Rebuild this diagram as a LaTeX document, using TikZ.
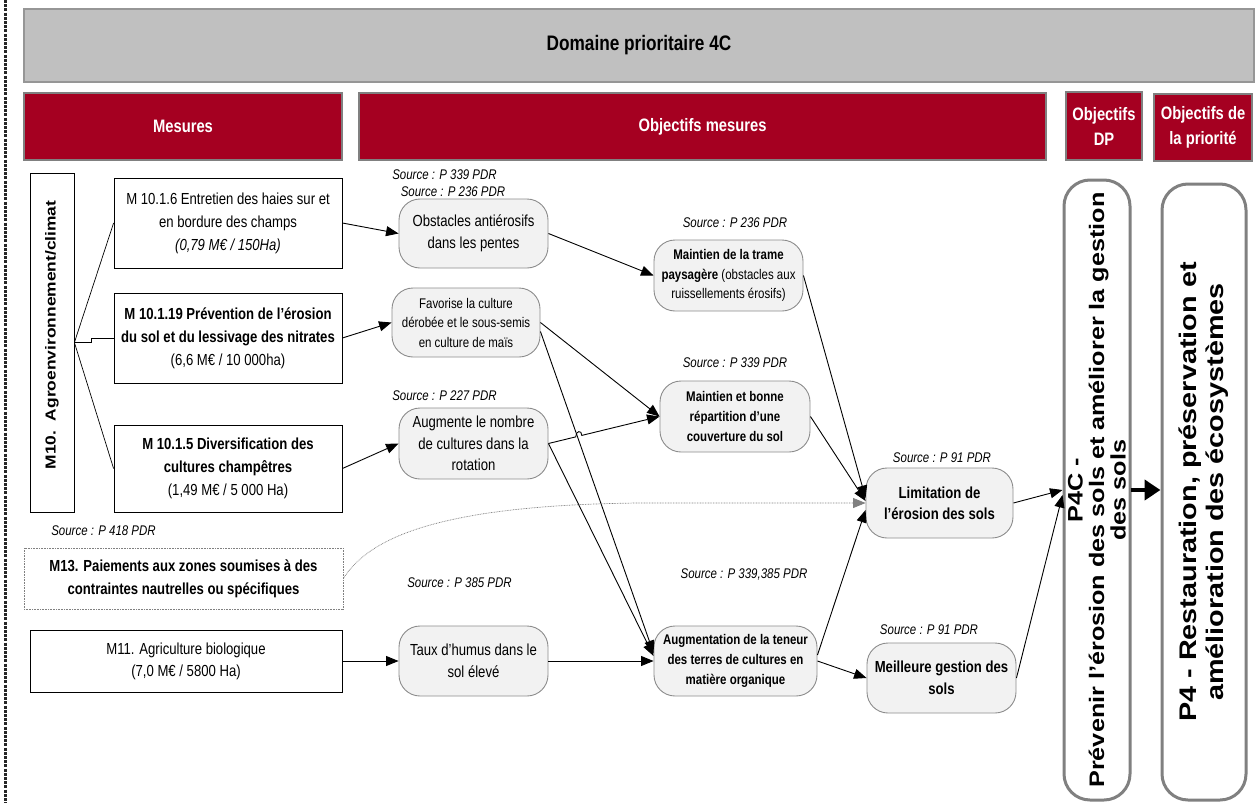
\documentclass[tikz,border=0pt]{standalone}
\usepackage{fontspec}
\setmainfont{Liberation Sans}[FakeStretch=0.82]
\newfontfamily\widefont{Liberation Sans}[FakeStretch=1.2]
\usetikzlibrary{arrows.meta,calc}

\definecolor{headred}{RGB}{165,0,33}
\definecolor{hdrborder}{RGB}{128,128,128}
\definecolor{titlefill}{RGB}{192,192,192}
\definecolor{titleborder}{RGB}{150,150,150}
\definecolor{objfill}{RGB}{242,242,242}
\definecolor{objborder}{RGB}{140,140,140}
\definecolor{bigborder}{RGB}{128,128,128}

\tikzset{
  hdr/.style={draw=hdrborder, line width=1.2pt, fill=headred, text=white, align=center, inner sep=0pt,
    font=\bfseries\fontsize{18}{25}\selectfont},
  mbox/.style={draw=black, line width=0.8pt, fill=white, align=center, inner sep=0pt,
    font=\fontsize{16}{23}\selectfont},
  obj/.style={draw=objborder, line width=0.9pt, fill=objfill, rounded corners=21pt, align=center, inner sep=0pt},
  objtxt/.style={obj, font=\fontsize{16}{22}\selectfont},
  objsm/.style={obj, font=\fontsize{14}{19.5}\selectfont},
  objbf/.style={obj, font=\bfseries\fontsize{14}{19.8}\selectfont},
  objbig/.style={obj, font=\bfseries\fontsize{16}{21}\selectfont},
  pillar/.style={draw=bigborder, line width=3pt, fill=white, rounded corners=26pt, inner sep=0pt},
  src/.style={font=\itshape\fontsize{14}{16}\selectfont, inner sep=0pt},
  arr/.style={-{Triangle[length=12.5pt,width=10pt]}, line width=0.9pt},
  link/.style={line width=0.7pt},
  dotlink/.style={draw=gray, line width=0.7pt, dash pattern=on 0.8pt off 0.8pt,
    -{Triangle[length=12.5pt,width=10pt]}},
  thickarr/.style={line width=4.5pt, -{Triangle[length=16pt,width=20pt]}},
}

\begin{document}
\begin{tikzpicture}[x=1pt,y=-1pt]
\useasboundingbox (0,0) rectangle (1255,803);

% dashed margin rule on the left
\coordinate (rtop) at (5,0);
\coordinate (rbot) at (5,803);
\draw[line width=3pt, draw=black!85, dash pattern=on 3pt off 1.2pt] (rtop) -- (rbot);

% title band
\node[draw=titleborder, line width=1.5pt, fill=titlefill, minimum width=1230pt, minimum height=73pt,
      font=\bfseries\fontsize{21}{24}\selectfont] (title) at (639,45.5) {Domaine prioritaire 4C};

% column headers
\node[hdr, minimum width=318pt, minimum height=67pt] (hmes) at (183,126.5) {Mesures};
\node[hdr, minimum width=687pt, minimum height=67pt] (hobj) at (702.5,126.5) {Objectifs mesures};
\node[hdr, minimum width=76pt, minimum height=68pt] (hdp) at (1104,126) {Objectifs\\DP};
\node[hdr, minimum width=98pt, minimum height=67pt] (hprio) at (1203,127.5) {Objectifs de\\la priorité};

% measures
\node[draw=black, line width=0.8pt, fill=white, minimum width=44pt, minimum height=339pt] (m10) at (52,342.5) {};
\node[rotate=90, inner sep=0pt, font=\widefont\bfseries\fontsize{14.5}{16}\selectfont] (m10t) at (52,335)
  {M10.\ \ Agroenvironnement/climat};

\node[mbox, minimum width=228pt, minimum height=90pt] (m1016) at (228,223)
  {M 10.1.6 Entretien des haies sur et\\en bordure des champs\\\textit{(0,79 M€ / 150Ha)}};
\node[mbox, minimum width=228pt, minimum height=90pt] (m10119) at (228,338)
  {\textbf{M 10.1.19 Prévention de l’érosion}\\\textbf{du sol et du lessivage des nitrates}\\(6,6 M€ / 10 000ha)};
\node[mbox, minimum width=228pt, minimum height=87pt] (m1015) at (228,468.5)
  {\textbf{M 10.1.5 Diversification des}\\\textbf{cultures champêtres}\\(1,49 M€ / 5 000 Ha)};

\node[src] (s418) at (103.5,531) {Source : P 418 PDR};
\node[draw=gray, line width=0.7pt, dash pattern=on 0.8pt off 0.8pt, fill=white, align=center, inner sep=0pt,
      minimum width=319pt, minimum height=61pt, font=\bfseries\fontsize{16}{23}\selectfont] (m13) at (183.5,578.5)
  {M13. Paiements aux zones soumises à des\\contraintes nautrelles ou spécifiques};
\node[mbox, minimum width=312pt, minimum height=62pt, font=\fontsize{16}{22}\selectfont] (m11) at (186,661)
  {M11. Agriculture biologique\\(7,0 M€ / 5800 Ha)};

% first level of objectives
\node[src] (s339a) at (444.5,175) {Source : P 339 PDR};
\node[src] (s236a) at (453,192) {Source : P 236 PDR};
\node[objtxt, minimum width=149pt, minimum height=69pt] (obst) at (473.5,233.5)
  {Obstacles antiérosifs\\dans les pentes};
\node[objsm, minimum width=148pt, minimum height=69pt] (fav) at (466,322.5)
  {Favorise la culture\\dérobée et le sous-semis\\en culture de maïs};
\node[src] (s227) at (444.5,396) {Source : P 227 PDR};
\node[objtxt, minimum width=149pt, minimum height=71pt, font=\fontsize{16}{21.5}\selectfont] (augm) at (473.5,443.5)
  {Augmente le nombre\\de cultures dans la\\rotation};
\node[src] (s385) at (459.5,583) {Source : P 385 PDR};
\node[objtxt, minimum width=149pt, minimum height=70pt] (taux) at (473.5,661)
  {Taux d’humus dans le\\sol élevé};

% second level of objectives
\node[src] (s236b) at (735,223) {Source : P 236 PDR};
\node[obj, minimum width=149pt, minimum height=71pt, font=\fontsize{14}{19.5}\selectfont] (trame) at (728.5,275.5)
  {\textbf{Maintien de la trame}\\\textbf{paysagère} (obstacles aux\\ruissellements érosifs)};
\node[src] (s339b) at (735,363) {Source : P 339 PDR};
\node[objbf, minimum width=150pt, minimum height=71pt] (maint) at (735,416.5)
  {Maintien et bonne\\répartition d’une\\couverture du sol};
\node[src] (s339385) at (744,574) {Source : P 339,385 PDR};
\node[objbf, minimum width=163pt, minimum height=70pt] (augmt) at (735.5,661)
  {Augmentation de la teneur\\des terres de cultures en\\matière organique};

% third level
\node[src] (s91a) at (942,458) {Source : P 91 PDR};
\node[objbig, minimum width=147pt, minimum height=70pt] (limit) at (939.5,503)
  {Limitation de\\l’érosion des sols};
\node[src] (s91b) at (929,630) {Source : P 91 PDR};
\node[objbig, minimum width=149pt, minimum height=70pt, font=\bfseries\fontsize{16}{22}\selectfont] (meil) at (941.5,678)
  {Meilleure gestion des\\sols};

% focus area and priority
\node[pillar, minimum width=66pt, minimum height=620pt] (p4c) at (1097,490) {};
\node[rotate=90, align=center, inner sep=0pt, font=\widefont\bfseries\fontsize{21}{21.5}\selectfont] (p4ct) at (1097,490)
  {P4C -\\Prévenir l’érosion des sols et améliorer la gestion\\des sols};
\node[pillar, minimum width=84pt, minimum height=616pt] (p4) at (1204,492) {};
\node[rotate=90, align=center, inner sep=0pt, font=\widefont\bfseries\fontsize{24}{27}\selectfont] (p4t) at (1204,492)
  {P4 - Restauration, préservation et\\amélioration des écosystèmes};

% M10 fan-out
\draw[link] (m10.east) -- (m1016.west);
\draw[link] (m10.east) -- ++(17,0) |- (m10119.west);
\draw[link] (m10.east) -- (m1015.west);

% measures to objectives
\draw[arr] (m1016.east) -- (obst.west);
\draw[arr] (m10119.east) -- (fav.west);
\draw[arr] (m1015.east) -- (augm.west);
\draw[arr] (m11.east) -- (taux.west);

% objectives to objectives
\draw[arr] (obst.east) -- (trame.west);
\draw[arr] (fav.east) -- (maint.west);
\draw[arr] ([yshift=-9pt]fav.east) -- ([yshift=8pt]augmt.west);
\draw[arr] (augm.east) -- ($(augm.east)!0.245!(maint.west)$)
  .. controls +(0,-6) and +(0,-6) .. ($(augm.east)!0.30!(maint.west)$) -- (maint.west);
\draw[arr] (augm.east) -- ([yshift=5pt]augmt.west);
\draw[arr] (taux.east) -- (augmt.west);

\draw[arr] (trame.east) -- ([yshift=5pt]limit.west);
\draw[arr] (maint.east) -- ([yshift=2pt]limit.west);
\draw[arr] ([yshift=6pt]augmt.east) -- ([yshift=-7pt]limit.west);
\draw[arr] (augmt.east) -- (meil.west);
\draw[dotlink] (m13.east) .. controls (365,545) and (420,505) .. (640,503) -- (limit.west);

% up to the focus area and priority
\draw[arr] (limit.east) -- (p4c.west);
\draw[arr] (meil.east) -- ([yshift=-5pt]p4c.west);
\draw[thickarr] ([xshift=-1pt]p4c.east) -- (p4c.east -| p4.west);
\end{tikzpicture}
\end{document}
